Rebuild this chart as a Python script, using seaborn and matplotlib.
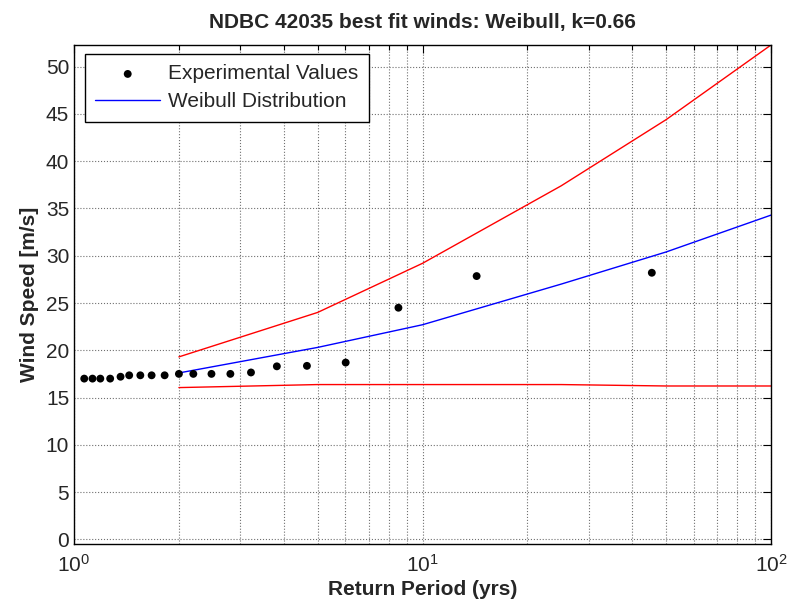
import numpy as np
import pandas as pd
import matplotlib
matplotlib.use('Agg')
import matplotlib.pyplot as plt
import seaborn as sns
from matplotlib.ticker import LogLocator, LogFormatterMathtext, NullFormatter


# experimental return periods (yrs) and wind speeds (m/s)
return_period_exp = [1.07, 1.13, 1.19, 1.27, 1.36, 1.44, 1.55, 1.67, 1.82, 2.0,
                     2.2, 2.48, 2.81, 3.22, 3.82, 4.66, 6.02, 8.53, 14.3, 45.5]
wind_speed_exp = [17.0, 17.0, 17.0, 17.0, 17.2, 17.35, 17.35, 17.35, 17.35, 17.5,
                  17.5, 17.5, 17.5, 17.65, 18.3, 18.35, 18.7, 24.5, 27.85, 28.2]

# fitted Weibull curve and confidence bounds
return_period_fit = [2, 5, 10, 25, 50, 100]
weibull_fit = [17.6, 20.3, 22.7, 27.0, 30.4, 34.3]
upper_bound = [19.3, 24.0, 29.2, 37.4, 44.4, 52.3]
lower_bound = [16.05, 16.37, 16.37, 16.37, 16.22, 16.22]

FONT = 15

sns.set_style('white')
plt.rcParams['font.family'] = ['Liberation Sans', 'DejaVu Sans']
plt.rcParams['mathtext.fontset'] = 'custom'
plt.rcParams['mathtext.rm'] = 'Liberation Sans'

fig = plt.figure(figsize=(7.9, 6.11), dpi=100)
ax = fig.add_axes([74 / 790, 1 - 544 / 611, 697 / 790, 499 / 611])

sns.scatterplot(x=return_period_exp, y=wind_speed_exp, ax=ax, color='black',
                s=32, edgecolor='none', label='Experimental Values', zorder=3)
sns.lineplot(x=return_period_fit, y=weibull_fit, ax=ax, color='blue', lw=1,
             label='Weibull Distribution')
sns.lineplot(x=return_period_fit, y=upper_bound, ax=ax, color='red', lw=1)
sns.lineplot(x=return_period_fit, y=lower_bound, ax=ax, color='red', lw=1)

ax.set_xscale('log')
ax.set_xlim(1, 100)
ax.set_ylim(-0.5, 52.3)
ax.set_yticks(np.arange(0, 55, 5))
ax.xaxis.set_major_locator(LogLocator(base=10))
ax.xaxis.set_major_formatter(LogFormatterMathtext())
ax.xaxis.set_minor_locator(LogLocator(base=10, subs=np.arange(2, 10)))
ax.xaxis.set_minor_formatter(NullFormatter())

ax.tick_params(which='both', direction='in', top=True, right=True,
               labelsize=FONT, color='black')
ax.tick_params(which='major', length=6, width=0.8)
ax.tick_params(which='minor', length=3.5, width=0.8)
ax.tick_params(axis='x', which='major', pad=7)

ax.grid(True, which='major', axis='both', ls=':', color='#707070', lw=0.8)
ax.grid(True, which='minor', axis='x', ls=':', color='#707070', lw=0.8)
for s in ax.spines.values():
    s.set_color('black')
    s.set_linewidth(1)

ax.set_title('NDBC 42035 best fit winds: Weibull, k=0.66',
             fontsize=FONT, fontweight='bold', pad=12)
ax.set_xlabel('Return Period (yrs)', fontsize=FONT, fontweight='bold', labelpad=3)
ax.set_ylabel('Wind Speed [m/s]', fontsize=FONT, fontweight='bold', labelpad=5)

leg = ax.legend(loc='upper left', bbox_to_anchor=(0.0158, 0.982), borderaxespad=0,
                frameon=True, fancybox=False, edgecolor='black', framealpha=1,
                fontsize=FONT, handlelength=3.1, handletextpad=0.4,
                labelspacing=0.42, borderpad=0.5)
leg.get_frame().set_linewidth(1)

fig.savefig('out.png', dpi=100)
